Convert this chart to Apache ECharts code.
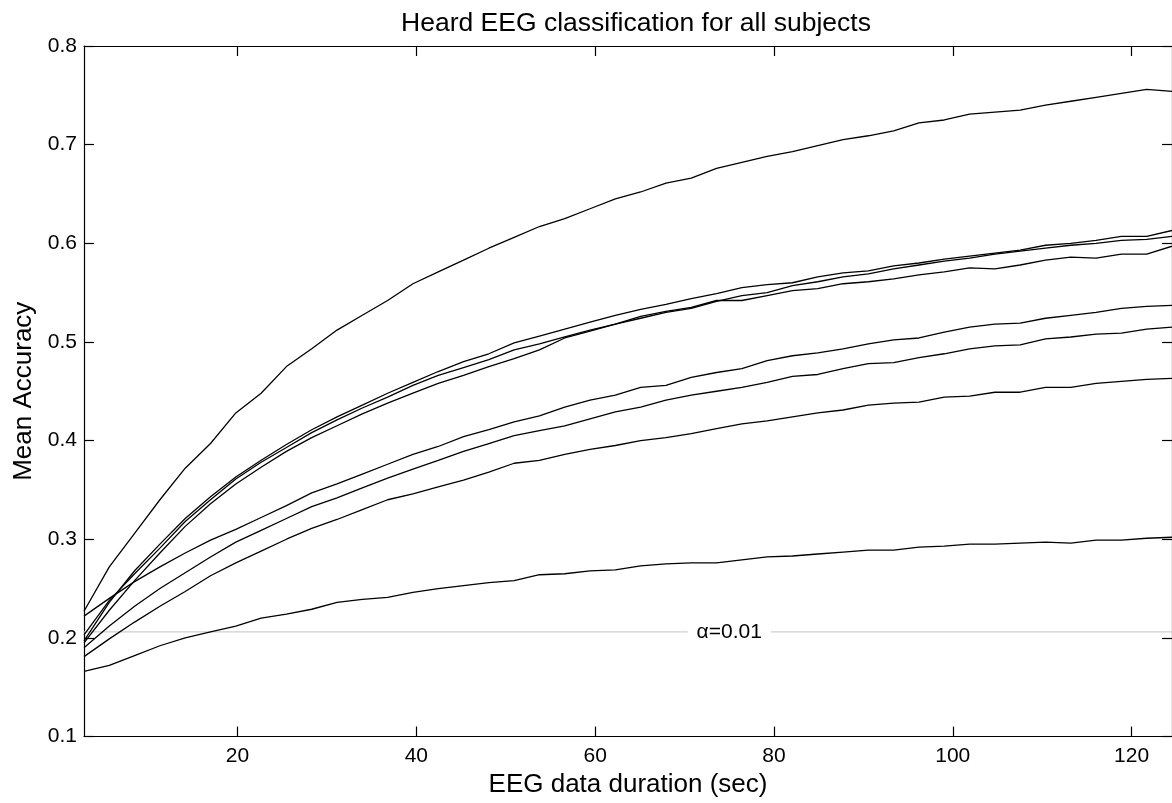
<!DOCTYPE html>
<html>
<head>
<meta charset="utf-8">
<script src="https://cdn.jsdelivr.net/npm/echarts@6/dist/echarts.min.js"></script>
<style>
html,body{margin:0;padding:0;background:#fff;}
#chart{width:1172px;height:803px;}
</style>
</head>
<body>
<div id="chart"></div>
<script>
// EEG data duration (sec)
var durations = [2.83, 5.66, 8.49, 11.32, 14.15, 16.98, 19.81, 22.64, 25.47, 28.30, 31.13, 33.96, 36.79, 39.62, 42.45, 45.28, 48.11, 50.94, 53.77, 56.60, 59.43, 62.26, 65.09, 67.92, 70.75, 73.58, 76.41, 79.24, 82.07, 84.90, 87.73, 90.56, 93.39, 96.22, 99.05, 101.88, 104.71, 107.54, 110.37, 113.20, 116.03, 118.86, 121.69, 124.52];

var subjA = [0.227, 0.272, 0.306, 0.340, 0.372, 0.397, 0.428, 0.448, 0.475, 0.493, 0.512, 0.527, 0.542, 0.559, 0.571, 0.583, 0.595, 0.606, 0.617, 0.625, 0.635, 0.645, 0.652, 0.661, 0.666, 0.676, 0.682, 0.688, 0.693, 0.699, 0.705, 0.709, 0.714, 0.722, 0.725, 0.731, 0.733, 0.735, 0.740, 0.744, 0.748, 0.752, 0.756, 0.754];
var subjB = [0.197, 0.236, 0.268, 0.295, 0.321, 0.343, 0.363, 0.380, 0.396, 0.411, 0.424, 0.436, 0.448, 0.459, 0.470, 0.480, 0.488, 0.499, 0.506, 0.513, 0.520, 0.527, 0.533, 0.538, 0.544, 0.549, 0.555, 0.558, 0.560, 0.566, 0.570, 0.572, 0.577, 0.580, 0.584, 0.587, 0.590, 0.593, 0.598, 0.600, 0.603, 0.607, 0.607, 0.613];
var subjC = [0.203, 0.238, 0.265, 0.291, 0.318, 0.340, 0.361, 0.378, 0.393, 0.408, 0.421, 0.433, 0.444, 0.456, 0.466, 0.474, 0.482, 0.492, 0.498, 0.505, 0.512, 0.518, 0.524, 0.530, 0.534, 0.541, 0.547, 0.550, 0.557, 0.561, 0.566, 0.569, 0.574, 0.578, 0.582, 0.585, 0.589, 0.592, 0.595, 0.598, 0.600, 0.603, 0.604, 0.607];
var subjD = [0.195, 0.228, 0.258, 0.286, 0.313, 0.336, 0.356, 0.373, 0.389, 0.403, 0.415, 0.427, 0.438, 0.448, 0.458, 0.466, 0.475, 0.483, 0.492, 0.504, 0.511, 0.518, 0.526, 0.531, 0.535, 0.542, 0.542, 0.547, 0.552, 0.554, 0.559, 0.561, 0.564, 0.568, 0.571, 0.575, 0.574, 0.578, 0.583, 0.586, 0.585, 0.589, 0.589, 0.597];
var subjE = [0.222, 0.240, 0.257, 0.272, 0.286, 0.299, 0.310, 0.322, 0.334, 0.347, 0.356, 0.366, 0.376, 0.386, 0.394, 0.404, 0.411, 0.419, 0.425, 0.434, 0.441, 0.446, 0.454, 0.456, 0.464, 0.469, 0.473, 0.481, 0.486, 0.489, 0.493, 0.498, 0.502, 0.504, 0.510, 0.515, 0.518, 0.519, 0.524, 0.527, 0.530, 0.534, 0.536, 0.537];
var subjF = [0.190, 0.212, 0.232, 0.250, 0.266, 0.282, 0.297, 0.309, 0.321, 0.333, 0.342, 0.352, 0.362, 0.371, 0.380, 0.389, 0.397, 0.405, 0.410, 0.415, 0.422, 0.429, 0.434, 0.441, 0.446, 0.450, 0.454, 0.459, 0.465, 0.467, 0.473, 0.478, 0.479, 0.484, 0.488, 0.493, 0.496, 0.497, 0.503, 0.505, 0.508, 0.509, 0.513, 0.515];
var subjG = [0.181, 0.199, 0.216, 0.232, 0.247, 0.263, 0.276, 0.288, 0.300, 0.311, 0.320, 0.330, 0.340, 0.346, 0.353, 0.360, 0.368, 0.377, 0.380, 0.386, 0.391, 0.395, 0.400, 0.403, 0.407, 0.412, 0.417, 0.420, 0.424, 0.428, 0.431, 0.436, 0.438, 0.439, 0.444, 0.445, 0.449, 0.449, 0.454, 0.454, 0.458, 0.460, 0.462, 0.463];
var subjH = [0.166, 0.172, 0.182, 0.192, 0.200, 0.206, 0.212, 0.220, 0.224, 0.229, 0.236, 0.239, 0.241, 0.246, 0.250, 0.253, 0.256, 0.258, 0.264, 0.265, 0.268, 0.269, 0.273, 0.275, 0.276, 0.276, 0.279, 0.282, 0.283, 0.285, 0.287, 0.289, 0.289, 0.292, 0.293, 0.295, 0.295, 0.296, 0.297, 0.296, 0.299, 0.299, 0.301, 0.302];

var subjects = [subjA, subjB, subjC, subjD, subjE, subjF, subjG, subjH];

// chance level (alpha = 0.01)
var alphaLevel = 0.206;
var alphaLabel = 'α=0.01';
var alphaLabelX = 75.0;

var xTicks = [20, 40, 60, 80, 100, 120];
var yTicks = [0.1, 0.2, 0.3, 0.4, 0.5, 0.6, 0.7, 0.8];

var xMin = durations[0];
var xMax = durations[durations.length - 1];

var FONT = '"Liberation Sans", Arial, Helvetica, sans-serif';

function pairs(ys) {
  return durations.map(function (x, i) { return [x, ys[i]]; });
}

var series = [];
series.push({
  type: 'line',
  data: [[xMin, alphaLevel], [xMax, alphaLevel]],
  symbol: 'none',
  silent: true,
  z: 1,
  lineStyle: { color: '#cfcfcf', width: 1.2 }
});
subjects.forEach(function (s) {
  series.push({
    type: 'line',
    data: pairs(s),
    symbol: 'none',
    z: 3,
    lineStyle: { color: '#000', width: 1.3 }
  });
});
series.push({
  type: 'scatter',
  data: [[alphaLabelX, alphaLevel]],
  symbolSize: 0,
  z: 5,
  silent: true,
  itemStyle: { opacity: 1 },
  label: {
    show: true,
    position: 'inside',
    formatter: alphaLabel,
    color: '#000',
    opacity: 1,
    fontFamily: FONT,
    fontSize: 21,
    backgroundColor: '#fff',
    padding: [2, 9, 2, 9]
  }
});

var axisLineStyle = { lineStyle: { color: '#000', width: 1.2 } };
var tickStyle = { lineStyle: { color: '#000', width: 1.2 } };

var chart = echarts.init(document.getElementById('chart'), null, { renderer: 'canvas' });
chart.setOption({
  animation: false,
  backgroundColor: '#fff',
  title: {
    text: 'Heard EEG classification for all subjects',
    left: 631,
    textAlign: 'center',
    top: 5,
    textStyle: { fontFamily: FONT, fontSize: 26.5, fontWeight: 'normal', color: '#000' }
  },
  grid: { left: 84, top: 46, width: 1094, height: 690.5, containLabel: false },
  xAxis: [{
    type: 'value',
    min: xMin,
    max: xMax,
    position: 'bottom',
    name: 'EEG data duration (sec)',
    nameLocation: 'middle',
    nameGap: 34,
    nameTextStyle: { fontFamily: FONT, fontSize: 26, color: '#000' },
    axisLine: axisLineStyle,
    axisTick: { show: true, inside: true, length: 10, customValues: xTicks, lineStyle: tickStyle.lineStyle },
    axisLabel: { show: true, customValues: xTicks, margin: 9, fontFamily: FONT, fontSize: 21, color: '#000' },
    splitLine: { show: false }
  }, {
    type: 'value',
    min: xMin,
    max: xMax,
    position: 'top',
    axisLine: axisLineStyle,
    axisTick: { show: true, inside: true, length: 10, customValues: xTicks, lineStyle: tickStyle.lineStyle },
    axisLabel: { show: false },
    splitLine: { show: false }
  }],
  yAxis: [{
    type: 'value',
    min: 0.1,
    max: 0.8,
    position: 'left',
    name: 'Mean Accuracy',
    nameLocation: 'middle',
    nameGap: 43,
    nameTextStyle: { fontFamily: FONT, fontSize: 26, color: '#000' },
    axisLine: { show: true, lineStyle: { color: '#000', width: 1.2 } },
    axisTick: { show: true, inside: true, length: 10, customValues: yTicks, lineStyle: tickStyle.lineStyle },
    axisLabel: { show: true, customValues: yTicks, margin: 7, fontFamily: FONT, fontSize: 21, color: '#000',
      formatter: function (v) { return v.toFixed(1); } },
    splitLine: { show: false }
  }, {
    type: 'value',
    min: 0.1,
    max: 0.8,
    position: 'right',
    axisLine: { show: true, lineStyle: { color: '#000', width: 1.2 } },
    axisTick: { show: true, inside: true, length: 10, customValues: yTicks, lineStyle: tickStyle.lineStyle },
    axisLabel: { show: false },
    splitLine: { show: false }
  }],
  series: series
});
</script>
</body>
</html>
